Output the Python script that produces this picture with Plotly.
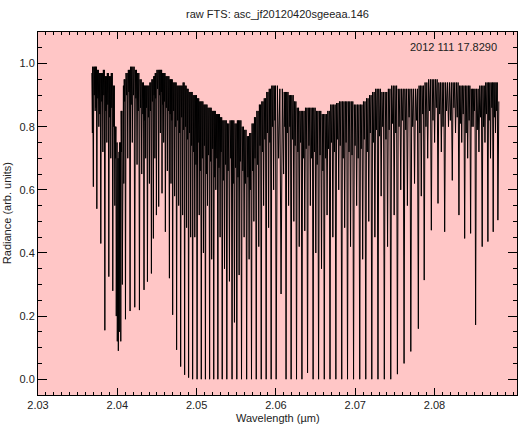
import plotly.graph_objects as go

# ---- spectrum: absorption lines (centre wavelength, line minimum) and the
# ---- local maximum that follows each line
start_wl, start_val = 2.03679, 0.97
end_wl, end_val = 2.08811, 0.88

line_wl = [
    2.03686, 2.03698, 2.03721, 2.03742, 2.03767, 2.03792, 2.03818, 2.03843,
    2.03868, 2.03893, 2.03918, 2.03943, 2.03969, 2.03987, 2.04000, 2.04013,
    2.04025, 2.04044, 2.04063, 2.04082, 2.04103, 2.04132, 2.04161, 2.04189,
    2.04220, 2.04249, 2.04279, 2.04308, 2.04337, 2.04358, 2.04380, 2.04405,
    2.04430, 2.04455, 2.04474, 2.04493, 2.04522, 2.04543, 2.04564, 2.04585,
    2.04606, 2.04631, 2.04657, 2.04677, 2.04698, 2.04723, 2.04748, 2.04774,
    2.04799, 2.04824, 2.04849, 2.04874, 2.04899, 2.04925,
    2.04950, 2.04977, 2.05006, 2.05033, 2.05059, 2.05086, 2.05111, 2.05137,
    2.05164, 2.05190, 2.05216, 2.05242, 2.05268, 2.05296, 2.05323, 2.05352,
    2.05381, 2.05414, 2.05447, 2.05477, 2.05507, 2.05536, 2.05566, 2.05599,
    2.05631, 2.05662, 2.05692, 2.05722, 2.05752, 2.05784, 2.05815, 2.05845,
    2.05877, 2.05908, 2.05940, 2.05971, 2.06003, 2.06034, 2.06065, 2.06097,
    2.06128, 2.06160, 2.06192, 2.06226, 2.06260, 2.06294, 2.06328, 2.06364,
    2.06399, 2.06434, 2.06469, 2.06503, 2.06538, 2.06575, 2.06610, 2.06645,
    2.06682, 2.06718, 2.06756, 2.06792, 2.06830, 2.06867, 2.06903, 2.06941,
    2.06979, 2.07018, 2.07057, 2.07094, 2.07133, 2.07171, 2.07209, 2.07248,
    2.07287, 2.07327, 2.07367, 2.07408, 2.07448, 2.07491, 2.07532, 2.07574,
    2.07616, 2.07658, 2.07701, 2.07748, 2.07796, 2.07833, 2.07870, 2.07914,
    2.07960, 2.08001, 2.08044, 2.08086, 2.08128, 2.08176, 2.08224, 2.08265,
    2.08308, 2.08343, 2.08380, 2.08418, 2.08455, 2.08487, 2.08518, 2.08560,
    2.08601, 2.08636, 2.08673, 2.08706, 2.08740, 2.08769, 2.08799,
]

line_min = [
    0.78, 0.61, 0.85, 0.54, 0.80, 0.43, 0.72, 0.155,
    0.75, 0.325, 0.70, 0.28, 0.55, 0.20, 0.12, 0.09,
    0.15, 0.12, 0.30, 0.62, 0.19, 0.70, 0.216, 0.75,
    0.228, 0.68, 0.219, 0.65, 0.283, 0.70, 0.309, 0.62,
    0.335, 0.446, 0.70, 0.52, 0.547, 0.78, 0.589, 0.75,
    0.467, 0.66, 0.32, 0.62, 0.204, 0.58, 0.093, 0.55,
    0.04, 0.52, 0.014, 0.48, 0.005, 0.45,
    0.0, 0.45, 0.0, 0.52, 0.0, 0.40, 0.0, 0.55,
    0.0, 0.38, 0.0, 0.60, 0.0, 0.45, 0.0, 0.35,
    0.0, 0.31, 0.0, 0.18, 0.0, 0.33, 0.0, 0.45,
    0.0, 0.38, 0.0, 0.50, 0.0, 0.42, 0.0, 0.55,
    0.0, 0.48, 0.0, 0.60, 0.0, 0.70, 0.27, 0.65,
    0.0, 0.55, 0.0, 0.50, 0.0, 0.42, 0.0, 0.47,
    0.02, 0.55, 0.0, 0.40, 0.0, 0.35, 0.0, 0.52,
    0.0, 0.45, 0.0, 0.60, 0.0, 0.48, 0.0, 0.42,
    0.0, 0.55, 0.0, 0.38, 0.0, 0.50, 0.0, 0.45,
    0.0, 0.58, 0.0, 0.42, 0.0, 0.52, 0.016, 0.60,
    0.05, 0.55, 0.088, 0.62, 0.16, 0.58, 0.314, 0.70,
    0.472, 0.75, 0.557, 0.72, 0.467, 0.80, 0.63, 0.78,
    0.52, 0.75, 0.446, 0.70, 0.462, 0.80, 0.172, 0.72,
    0.42, 0.75, 0.436, 0.70, 0.467, 0.78, 0.504,
]

peak_after = [
    0.99, 0.99, 0.99, 0.98, 0.97, 0.97, 0.98, 0.96,
    0.97, 0.96, 0.97, 0.93, 0.80, 0.75, 0.70, 0.72,
    0.75, 0.85, 0.93, 0.95, 0.97, 0.98, 0.99, 0.99,
    0.98, 0.97, 0.95, 0.94, 0.93, 0.93, 0.93, 0.94,
    0.95, 0.96, 0.97, 0.98, 0.98, 0.98, 0.97, 0.97,
    0.96, 0.96, 0.95, 0.95, 0.94, 0.94, 0.93, 0.93,
    0.93, 0.94, 0.93, 0.92, 0.91, 0.91,
    0.90, 0.90, 0.89, 0.88, 0.88, 0.87, 0.87, 0.86,
    0.86, 0.85, 0.85, 0.84, 0.84, 0.83, 0.82, 0.82,
    0.81, 0.82, 0.82, 0.81, 0.82, 0.82, 0.80, 0.79,
    0.77, 0.78, 0.81, 0.83, 0.85, 0.87, 0.88, 0.89,
    0.91, 0.92, 0.93, 0.93, 0.93, 0.92, 0.92, 0.91,
    0.91, 0.90, 0.90, 0.88, 0.86, 0.85, 0.85, 0.86,
    0.86, 0.86, 0.86, 0.85, 0.85, 0.84, 0.84, 0.85,
    0.87, 0.87, 0.875, 0.88, 0.88, 0.88, 0.88, 0.88,
    0.87, 0.87, 0.87, 0.88, 0.89, 0.90, 0.91, 0.92,
    0.92, 0.91, 0.91, 0.92, 0.93, 0.93, 0.92, 0.92,
    0.92, 0.92, 0.92, 0.92, 0.93, 0.93, 0.94, 0.95,
    0.95, 0.95, 0.94, 0.94, 0.94, 0.94, 0.94, 0.94,
    0.93, 0.93, 0.93, 0.93, 0.92, 0.92, 0.92, 0.93,
    0.93, 0.94, 0.94, 0.94, 0.94, 0.94, 0.93,
]

# weak line sitting in the gap after each line (None = no weak line)
weak_after = [
    0.88, 0.90, 0.86, 0.89, 0.84, 0.88, 0.90, 0.85,
    0.87, 0.83, 0.86, 0.80, 0.70, 0.62, 0.55, 0.58,
    0.60, 0.72, 0.84, 0.88, 0.90, 0.91, 0.87, 0.90,
    0.89, 0.85, 0.86, 0.84, 0.82, 0.86, 0.83, 0.85,
    0.88, 0.90, 0.89, 0.92, 0.90, 0.91, 0.87, 0.88,
    0.86, 0.85, 0.84, 0.82, 0.85, 0.80, 0.82, 0.78,
    0.83, 0.79, 0.80, 0.76, 0.78, 0.74,
    0.72, 0.68, 0.75, 0.66, 0.70, 0.74, 0.65, 0.71,
    0.69, 0.73, 0.64, 0.70, 0.67, 0.72, 0.63, 0.68,
    0.66, 0.70, 0.62, 0.67, 0.64, 0.69, 0.66, 0.62,
    0.64, 0.60, 0.66, 0.70, 0.68, 0.74, 0.72, 0.76,
    0.78, 0.75, 0.80, 0.82, None, None, None, 0.80,
    0.78, 0.80, 0.76, 0.74, 0.72, 0.75, 0.70, 0.73,
    0.74, 0.70, 0.72, 0.68, 0.71, 0.66, 0.70, 0.73,
    0.75, 0.72, 0.76, 0.74, 0.70, 0.75, 0.72, 0.71,
    0.74, 0.70, 0.73, 0.76, 0.72, 0.78, 0.75, 0.79,
    0.77, 0.80, 0.76, 0.79, 0.81, 0.78, 0.80, 0.82,
    0.79, 0.83, 0.80, 0.82, 0.78, 0.84, 0.80, 0.85,
    0.82, 0.86, 0.84, 0.80, 0.85, 0.82, 0.86, 0.83,
    0.81, 0.84, 0.78, 0.82, 0.80, 0.85, 0.79, 0.83,
    0.80, 0.84, 0.82, 0.86, 0.83, 0.85,
]

# axis ticks
x_ticks = [2.03, 2.04, 2.05, 2.06, 2.07, 2.08]
x_labels = ["2.03", "2.04", "2.05", "2.06", "2.07", "2.08"]
y_ticks = [0.0, 0.2, 0.4, 0.6, 0.8, 1.0]
y_labels = ["0.0", "0.2", "0.4", "0.6", "0.8", "1.0"]

title_text = "raw FTS: asc_jf20120420sgeeaa.146"
stamp_text = "2012 111 17.8290"

# ---- assemble the polyline: start, then each line minimum followed by the
# ---- maxima (and optional weak line) in the gap to the next line
xs, ys = [start_wl], [start_val]
n = len(line_wl)
for i in range(n):
    xs.append(line_wl[i])
    ys.append(line_min[i])
    if i == n - 1:
        break
    a, b = line_wl[i], line_wl[i + 1]
    w = weak_after[i]
    if w is None:
        xs.append(0.5 * (a + b))
        ys.append(peak_after[i])
    else:
        mid = 0.5 * (a + b)
        xs += [0.5 * (a + mid), mid, 0.5 * (mid + b)]
        ys += [peak_after[i], w, peak_after[i]]
xs.append(end_wl)
ys.append(end_val)

FONT = "Liberation Sans, Arial, Helvetica, sans-serif"

fig = go.Figure()
fig.add_trace(go.Scatter(
    x=xs, y=ys, mode="lines",
    line=dict(color="black", width=1),
    hoverinfo="skip", showlegend=False,
))

axis_common = dict(
    showline=True, mirror="allticks", linecolor="black", linewidth=1,
    ticks="inside", tickcolor="black", tickwidth=1,
    showgrid=False, zeroline=False,
    tickfont=dict(family=FONT, size=11, color="#222"),
)

fig.update_xaxes(
    range=[2.03, 2.0904], tickvals=x_ticks, ticktext=x_labels,
    ticklen=7,
    minor=dict(dtick=0.001, tick0=2.03, ticks="inside", ticklen=3,
               tickcolor="black", showgrid=False),
    **axis_common,
)
fig.update_yaxes(
    range=[-0.05, 1.10], tickvals=y_ticks, ticktext=y_labels,
    ticklen=9,
    minor=dict(dtick=0.05, tick0=0, ticks="inside", ticklen=4,
               tickcolor="black", showgrid=False),
    **axis_common,
)

fig.update_layout(
    width=519, height=425,
    margin=dict(l=38, r=2, t=32, b=30),
    paper_bgcolor="white",
    plot_bgcolor="#ffc6c6",
    font=dict(family=FONT, size=11, color="#222"),
    title=dict(text=title_text, x=0.5, xref="paper", xanchor="center",
               y=1 - 14 / 425, yref="container", yanchor="middle",
               font=dict(family=FONT, size=11, color="#222")),
    annotations=[
        dict(text=stamp_text, xref="paper", yref="paper", x=0.962, y=0.958,
             xanchor="right", yanchor="middle", showarrow=False,
             font=dict(family=FONT, size=11, color="#222")),
        dict(text="Wavelength (µm)", xref="paper", yref="paper", x=0.5,
             y=-0.063, xanchor="center", yanchor="middle", showarrow=False,
             font=dict(family=FONT, size=11, color="#222")),
        dict(text="Radiance (arb. units)", xref="paper", yref="paper",
             x=-0.0655, y=0.5, xanchor="center", yanchor="middle",
             textangle=-90, showarrow=False,
             font=dict(family=FONT, size=11, color="#222")),
    ],
)

fig.write_html("out.html")
